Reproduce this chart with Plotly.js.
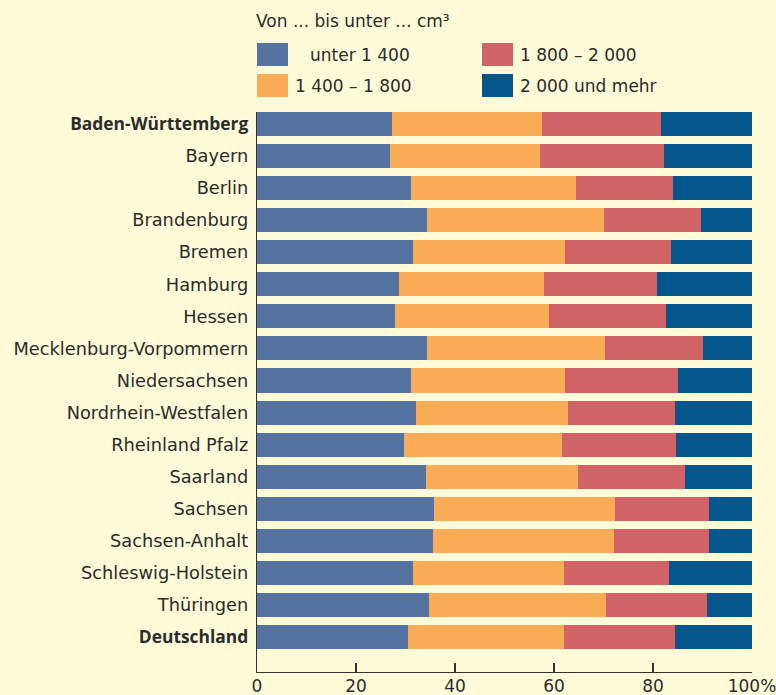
<!DOCTYPE html>
<html>
<head>
<meta charset="utf-8">
<script src="https://cdn.plot.ly/plotly-3.0.1.min.js"></script>
<style>html,body{margin:0;padding:0;background:#fffbd8;overflow:hidden;}</style>
</head>
<body>
<div id="chart" style="width:776px;height:695px;"></div>
<script>
// ---- data ----
const categories = ["Baden-Württemberg","Bayern","Berlin","Brandenburg","Bremen","Hamburg","Hessen",
  "Mecklenburg-Vorpommern","Niedersachsen","Nordrhein-Westfalen","Rheinland Pfalz","Saarland",
  "Sachsen","Sachsen-Anhalt","Schleswig-Holstein","Thüringen","Deutschland"];
const boldCategories = ["Baden-Württemberg","Deutschland"];
const seriesNames = ["unter 1 400","1 400 – 1 800","1 800 – 2 000","2 000 und mehr"];
const unter1400   = [27.3,26.9,31.1,34.3,31.5,28.7,27.9,34.3,31.1,32.1,29.7,34.1,35.8,35.6,31.5,34.7,30.5];
const von1400     = [30.3,30.3,33.3,35.8,30.7,29.3,31.1,36.0,31.1,30.7,31.9,30.7,36.5,36.5,30.5,35.8,31.5];
const von1800     = [24.0,25.0,19.6,19.6,21.4,22.8,23.6,19.8,22.9,21.6,23.1,21.7,19.0,19.2,21.2,20.4,22.4];
const ab2000      = [18.6,18.0,16.0,10.3,16.4,19.4,17.6, 9.9,14.9,15.8,15.5,13.5, 8.9, 8.9,17.0, 9.3,15.8];
const xTickVals   = [0,20,40,60,80,100];
const xTickText   = ["0","20","40","60","80","100%"];
const legendTitle = "Von ... bis unter ... cm³";

// ---- style ----
const colors = ["#5573a0","#faad56","#d06365","#04568c"];
const bg = "#fffbd8";
const textColor = "#2b2b2b";
const fontFam = "DejaVu Sans, sans-serif";

const seriesValues = [unter1400, von1400, von1800, ab2000];
const traces = seriesValues.map((vals, i) => ({
  type: "bar", orientation: "h",
  x: vals, y: categories, name: seriesNames[i],
  marker: {color: colors[i], line: {width: 0}},
  hoverinfo: "x+y+name", showlegend: false
}));

// plot area in pixels
const L = 257, R = 752, T = 112, B = 672, W = 776, H = 695;
const px2x = p => (p - L) / (R - L);
const px2y = p => (B - p) / (B - T);

// custom legend (2 columns, column-major)
const legPos = [
  {sx: 257, sy: 43, tx: 308},
  {sx: 257, sy: 74, tx: 293},
  {sx: 482, sy: 43, tx: 518},
  {sx: 482, sy: 74, tx: 518}
];
const shapes = legPos.map((p, i) => ({
  type: "rect", xref: "paper", yref: "paper",
  x0: px2x(p.sx), x1: px2x(p.sx + 31), y0: px2y(p.sy + 23), y1: px2y(p.sy),
  fillcolor: colors[i], line: {width: 0}
}));
const annotations = legPos.map((p, i) => ({
  xref: "paper", yref: "paper", x: px2x(p.tx), y: px2y(p.sy + 11.5),
  xanchor: "left", yanchor: "middle", showarrow: false,
  text: seriesNames[i], font: {family: fontFam, size: 17, color: textColor}
}));
annotations.push({
  xref: "paper", yref: "paper", x: px2x(254), y: px2y(21),
  xanchor: "left", yanchor: "middle", showarrow: false,
  text: legendTitle, font: {family: fontFam, size: 17, color: textColor}
});

const layout = {
  width: W, height: H,
  paper_bgcolor: bg, plot_bgcolor: bg,
  margin: {l: L, r: W - R, t: T, b: H - B, pad: 0},
  barmode: "stack", bargap: 0.25,
  showlegend: false,
  font: {family: fontFam, size: 17, color: textColor},
  xaxis: {
    range: [0, 100], tickvals: xTickVals, ticktext: xTickText,
    ticks: "inside", ticklen: 9, tickwidth: 1.2, tickcolor: "#333",
    showline: true, linecolor: "#333", linewidth: 1.2,
    showgrid: false, zeroline: false, fixedrange: true,
    ticklabeloverflow: "allow", ticklabelstandoff: -2,
    tickfont: {family: fontFam, size: 17, color: textColor}
  },
  yaxis: {
    type: "category", range: [16 + 1.094, -0.375],
    tickvals: categories,
    ticktext: categories.map(c => boldCategories.includes(c)
      ? "<span style=\"font-family:'Open Sans';font-weight:bold;font-size:17.4px\">" + c + "</span>"
      : c),
    ticks: "", showline: true, linecolor: "#333", linewidth: 1.2,
    showgrid: false, zeroline: false, fixedrange: true,
    ticklabelstandoff: 4,
    tickfont: {family: fontFam, size: 17.8, color: textColor}
  },
  shapes: shapes,
  annotations: annotations
};

Plotly.newPlot("chart", traces, layout, {displayModeBar: false, staticPlot: true});
</script>
</body>
</html>
